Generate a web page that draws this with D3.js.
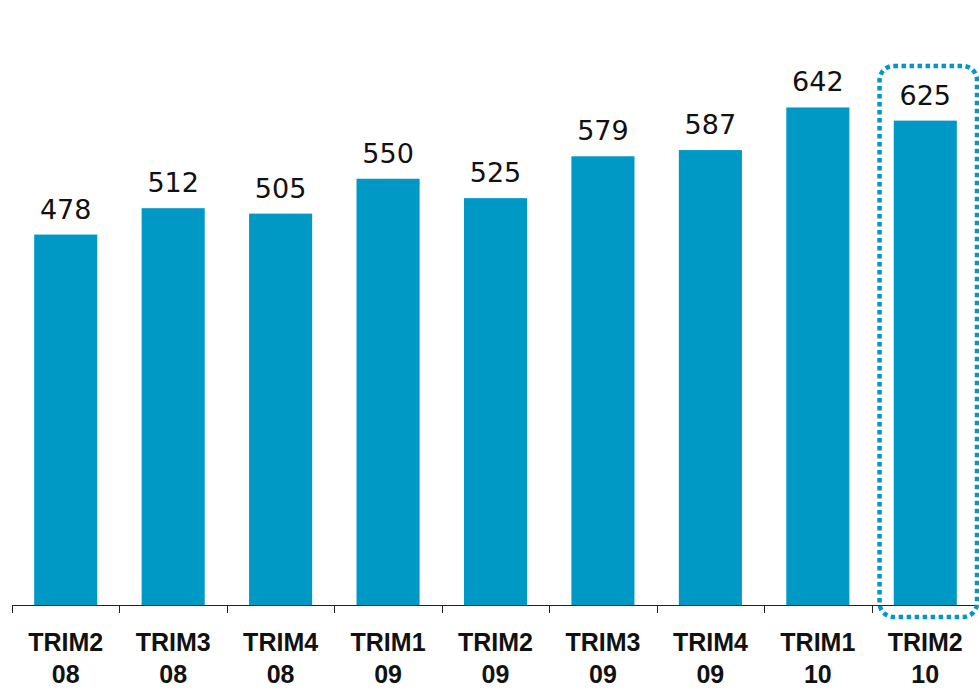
<!DOCTYPE html>
<html>
<head>
<meta charset="utf-8">
<script src="https://cdn.jsdelivr.net/npm/d3@7"></script>
<style>
  body { margin: 0; background: #fff; }
  svg { display: block; }
</style>
</head>
<body>
<svg id="chart" width="979" height="691"></svg>
<script>
// data
const quarters = ["TRIM2", "TRIM3", "TRIM4", "TRIM1", "TRIM2", "TRIM3", "TRIM4", "TRIM1", "TRIM2"];
const years = ["08", "08", "08", "09", "09", "09", "09", "10", "10"];
const values = [478, 512, 505, 550, 525, 579, 587, 642, 625];
const highlightIndex = 8;

const barColor = "#0099c6";
const svg = d3.select("#chart");

const x = d3.scaleBand()
  .domain(d3.range(values.length))
  .range([12, 979])
  .paddingInner(0.413)
  .paddingOuter(0.2065);

// same x used for the axis ticks, without padding
const xAxisScale = d3.scaleBand()
  .domain(d3.range(values.length))
  .range([12, 979]);

const y = d3.scaleLinear()
  .domain([0, 700])
  .range([605, 605 - 700 * 0.775]);

// bars
svg.selectAll("rect.bar")
  .data(values)
  .join("rect")
  .attr("class", "bar")
  .attr("x", (d, i) => x(i))
  .attr("y", d => y(d))
  .attr("width", x.bandwidth())
  .attr("height", d => y(0) - y(d))
  .attr("fill", barColor);

// value labels
svg.selectAll("text.val")
  .data(values)
  .join("text")
  .attr("class", "val")
  .attr("x", (d, i) => x(i) + x.bandwidth() / 2)
  .attr("y", d => y(d) - 16)
  .attr("text-anchor", "middle")
  .attr("font-family", "DejaVu Sans, sans-serif")
  .attr("font-size", 27)
  .attr("fill", "#111")
  .text(d => d);

// axis line and ticks
const axisG = svg.append("g");
axisG.append("line")
  .attr("x1", 12).attr("x2", 979)
  .attr("y1", 605.5).attr("y2", 605.5)
  .attr("stroke", "#222").attr("stroke-width", 1);
const tickXs = d3.range(values.length + 1).map(i => i < values.length ? xAxisScale(i) : 979);
axisG.selectAll("line.tick")
  .data(tickXs)
  .join("line")
  .attr("class", "tick")
  .attr("x1", d => Math.round(d) + 0.5).attr("x2", d => Math.round(d) + 0.5)
  .attr("y1", 605).attr("y2", 613)
  .attr("stroke", "#222").attr("stroke-width", 1);

// category labels (two lines)
const labels = svg.selectAll("text.cat")
  .data(quarters)
  .join("text")
  .attr("class", "cat")
  .attr("x", (d, i) => xAxisScale(i) + xAxisScale.bandwidth() / 2)
  .attr("text-anchor", "middle")
  .attr("font-family", "Liberation Sans, Arial, sans-serif")
  .attr("font-weight", "bold")
  .attr("font-size", 25)
  .attr("fill", "#111");
labels.append("tspan")
  .attr("x", (d, i) => xAxisScale(i) + xAxisScale.bandwidth() / 2)
  .attr("y", 651)
  .text(d => d);
labels.append("tspan")
  .attr("x", (d, i) => xAxisScale(i) + xAxisScale.bandwidth() / 2)
  .attr("y", 683)
  .text((d, i) => years[i]);

// dotted highlight around the last quarter
const hx = xAxisScale(highlightIndex) + 8;
svg.append("rect")
  .attr("x", hx)
  .attr("y", 66)
  .attr("width", 977 - hx)
  .attr("height", 551)
  .attr("rx", 14)
  .attr("fill", "none")
  .attr("stroke", barColor)
  .attr("stroke-width", 4.5)
  .attr("stroke-dasharray", "4.5 3.5");
</script>
</body>
</html>
